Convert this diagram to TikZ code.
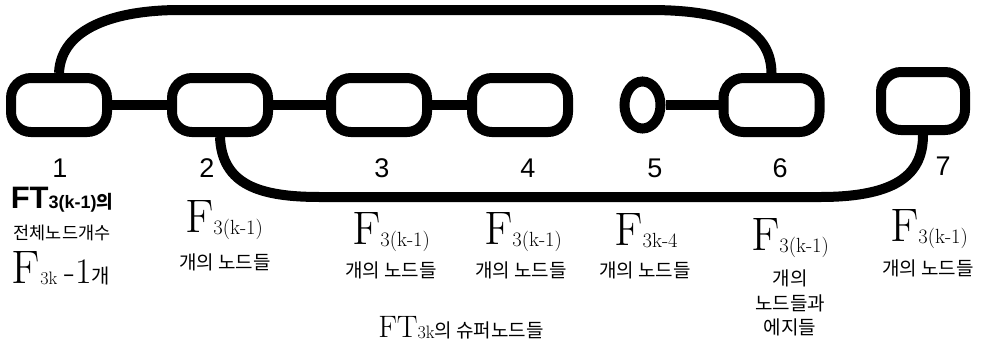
\documentclass[tikz,border=0pt]{standalone}
\usepackage{fontspec}
\usetikzlibrary{shapes.geometric}
\setmainfont{Latin Modern Roman}
\newfontfamily\kr{Noto Sans CJK KR}
\newfontfamily\arial{Liberation Sans}
\newcommand{\Fsub}[1]{{\fontsize{47}{47}\selectfont F}\raisebox{-2pt}{\fontsize{20.5}{20.5}\selectfont #1}}
\newcommand{\krt}[1]{{\kr\fontsize{19}{22}\selectfont #1}}
\begin{document}
\begin{tikzpicture}[x=1pt,y=-1pt,
  sn/.style={draw, line width=10pt, rounded corners=20pt, minimum width=96pt, minimum height=54pt, inner sep=0pt},
  conn/.style={line width=10pt},
  num/.style={font=\arial\fontsize{27}{27}\selectfont, inner sep=0pt},
  lab/.style={inner sep=0pt, align=center}]
\useasboundingbox (0,0) rectangle (988,349);
% supernodes
\node[sn] (n1) at (59,105) {};
\node[sn] (n2) at (220,105) {};
\node[sn] (n3) at (379,105) {};
\node[sn] (n4) at (520,105) {};
\node[draw, line width=10pt, ellipse, minimum width=36pt, minimum height=47pt, inner sep=0pt] (n5) at (642.5,105) {};
\node[sn] (n6) at (771.5,105) {};
\node[sn, minimum width=84pt, minimum height=58pt] (n7) at (923,101) {};
% connectors
\draw[conn] (n1.east) -- (n2.west);
\draw[conn] (n2.east) -- (n3.west);
\draw[conn] (n3.east) -- (n4.west);
\draw[conn] (n5.east) -- (n6.west);
\coordinate (tl) at (180,10);
\coordinate (tr) at (650,10);
\draw[conn] (n1.north) .. controls (61,28) and (115,10) .. (tl) -- (tr) .. controls (740,10) and (771,35) .. (n6.north);
\coordinate (bl) at (320,197);
\coordinate (br) at (820,197);
\draw[conn] (n2.south) .. controls (222,185) and (260,197) .. (bl) -- (br) .. controls (900,197) and (923,172) .. (n7.south);
% numbers
\node[num] (k1) at (60,168) {1};
\node[num] (k2) at (207,168) {2};
\node[num] (k3) at (382,168) {3};
\node[num] (k4) at (528,168) {4};
\node[num] (k5) at (655,168) {5};
\node[num] (k6) at (780,168) {6};
\node[num] (k7) at (943,166) {7};
% label 1
\node[lab] (l1a) at (62,200) {{\arial\bfseries\fontsize{31}{31}\selectfont FT}{\arial\bfseries\fontsize{18}{18}\selectfont 3(k-1)}{\kr\bfseries\fontsize{18}{18}\selectfont 의}};
\node[lab] (l1b) at (62,233) {{\kr\fontsize{17.5}{17.5}\selectfont 전체노드개수}};
\node[lab] (l1c) at (61,268) {{\fontsize{47}{47}\selectfont F}\raisebox{-1pt}{\fontsize{18}{18}\selectfont 3k}\hspace{7pt}{\fontsize{36}{36}\selectfont -1}{\kr\fontsize{20}{20}\selectfont 개}};
% label 2
\node[lab] (l2a) at (224,220) {\Fsub{3(k-1)}};
\node[lab] (l2b) at (225,262) {\krt{개의 노드들}};
% label 3
\node[lab] (l3a) at (391,232) {\Fsub{3(k-1)}};
\node[lab] (l3b) at (391,270) {\krt{개의 노드들}};
% label 4
\node[lab] (l4a) at (523,232) {\Fsub{3(k-1)}};
\node[lab] (l4b) at (521,270) {\krt{개의 노드들}};
% label 5
\node[lab] (l5a) at (646,231) {\Fsub{3k-4}};
\node[lab] (l5b) at (645,270) {\krt{개의 노드들}};
% label 6
\node[lab] (l6a) at (790,238) {\Fsub{3(k-1)}};
\node[lab] (l6b) at (790,278) {\krt{개의}};
\node[lab] (l6c) at (790,303) {\krt{노드들과}};
\node[lab] (l6d) at (790,327) {\krt{에지들}};
% label 7
\node[lab] (l7a) at (929,229) {\Fsub{3(k-1)}};
\node[lab] (l7b) at (928,268) {\krt{개의 노드들}};
% caption
\node[lab] (cap) at (461,328) {{\fontsize{31}{31}\selectfont FT}\raisebox{-1pt}{\fontsize{18}{18}\selectfont 3k}\krt{의 슈퍼노드들}};
\end{tikzpicture}
\end{document}
